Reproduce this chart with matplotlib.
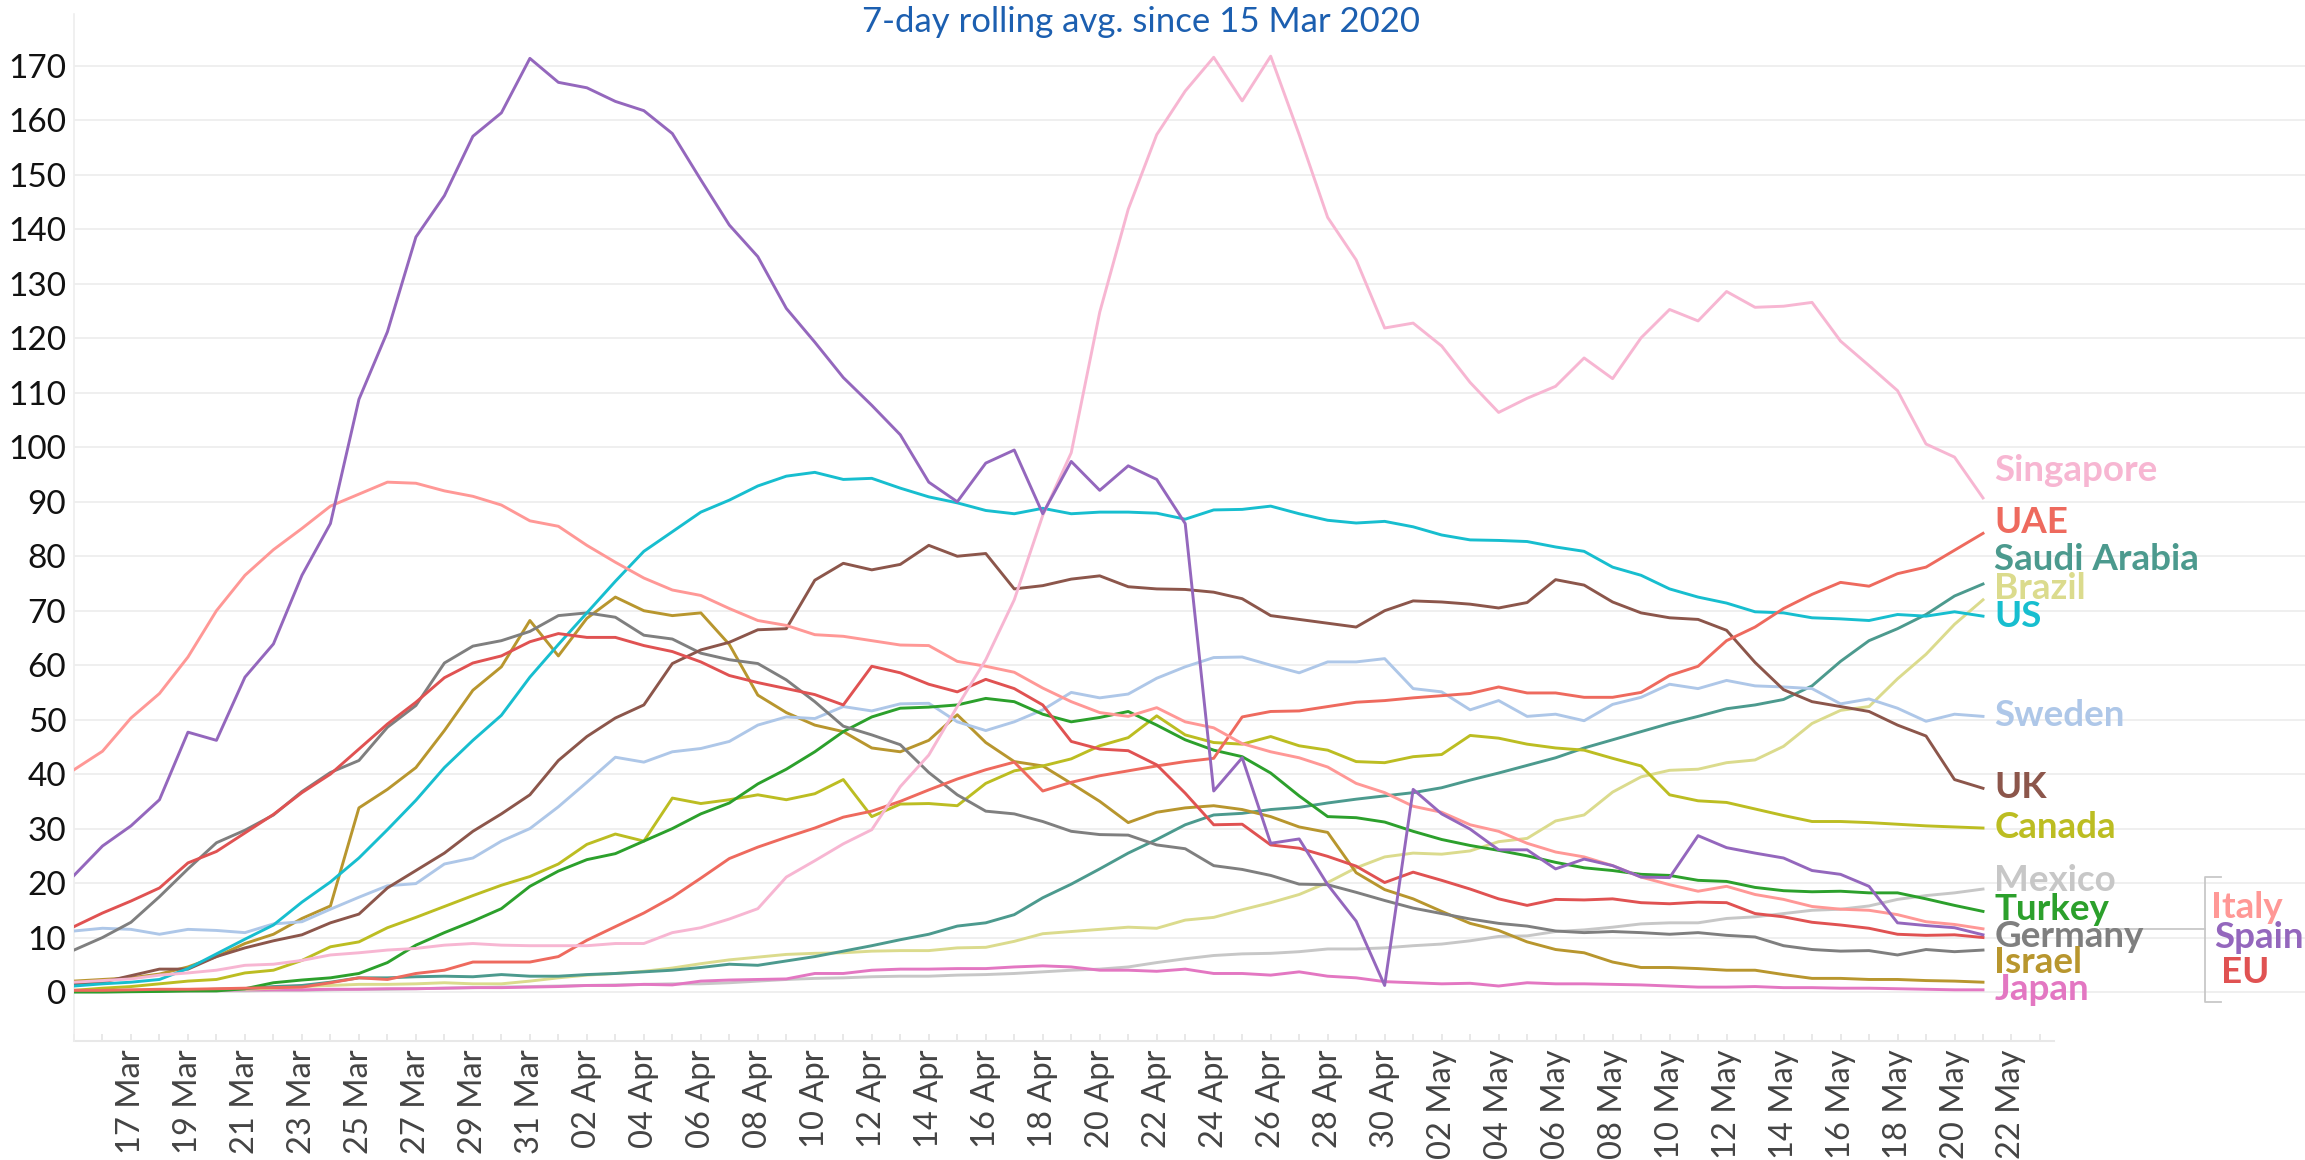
import matplotlib
matplotlib.use('Agg')
import matplotlib.pyplot as plt
import matplotlib.dates as mdates
import pandas as pd
from matplotlib import font_manager as fm

avail = {f.name for f in fm.fontManager.ttflist}
NARROW = 'Liberation Sans Narrow' if 'Liberation Sans Narrow' in avail else 'Lato'

dates = pd.date_range('2020-03-15', '2020-05-21', freq='D')

spain = [21.4, 26.8, 30.5, 35.3, 47.7, 46.2, 57.8, 63.9, 76.5, 86.0, 108.8, 121.2, 138.6, 146.2, 157.1, 161.4,
         171.4, 167.0, 166.0, 163.5, 161.8, 157.6, 149.1, 140.8, 135.0, 125.5, 119.3, 112.8, 107.7, 102.3, 93.6, 90.0,
         97.1, 99.5, 87.8, 97.4, 92.1, 96.6, 94.1, 86.0, 36.9, 43.0, 27.3, 28.1, 19.7, 13.0, 1.2, 37.2,
         32.7, 29.9, 26.1, 26.1, 22.6, 24.4, 23.2, 21.1, 21.0, 28.7, 26.5, 25.5, 24.6, 22.3, 21.6, 19.4,
         12.7, 12.2, 11.8, 10.5]
italy = [40.8, 44.2, 50.3, 54.8, 61.5, 70.0, 76.5, 81.2, 85.1, 89.2, 91.4, 93.6, 93.4, 92.0, 91.0, 89.4,
         86.5, 85.5, 82.0, 78.9, 76.0, 73.8, 72.8, 70.4, 68.2, 67.3, 65.6, 65.3, 64.5, 63.7, 63.6, 60.7,
         59.8, 58.7, 55.8, 53.3, 51.3, 50.6, 52.2, 49.6, 48.5, 45.6, 44.1, 43.0, 41.3, 38.3, 36.6, 34.1,
         33.0, 30.7, 29.5, 27.3, 25.7, 24.8, 23.2, 21.1, 19.7, 18.5, 19.4, 17.9, 17.0, 15.7, 15.2, 15.0,
         14.2, 12.9, 12.4, 11.6]
eu = [12.0, 14.5, 16.7, 19.1, 23.7, 25.8, 29.2, 32.6, 36.6, 40.0, 44.6, 49.2, 53.2, 57.7, 60.4, 61.7,
      64.3, 65.8, 65.1, 65.1, 63.6, 62.5, 60.6, 58.1, 56.8, 55.7, 54.6, 52.7, 59.8, 58.6, 56.5, 55.1,
      57.4, 55.7, 52.7, 46.0, 44.6, 44.3, 41.7, 36.5, 30.7, 30.8, 27.0, 26.4, 24.9, 23.1, 20.1, 22.0,
      20.5, 18.9, 17.1, 15.9, 17.0, 16.9, 17.1, 16.4, 16.2, 16.5, 16.4, 14.4, 13.8, 12.8, 12.3, 11.7,
      10.6, 10.4, 10.5, 10.0]
uae = [0.3, 0.3, 0.4, 0.5, 0.5, 0.6, 0.7, 0.8, 0.9, 1.7, 2.6, 2.3, 3.4, 4.0, 5.5, 5.5,
       5.5, 6.5, 9.5, 12.0, 14.5, 17.4, 20.9, 24.5, 26.6, 28.4, 30.1, 32.1, 33.2, 35.0, 37.1, 39.1,
       40.8, 42.2, 36.9, 38.5, 39.7, 40.6, 41.5, 42.3, 42.9, 50.5, 51.5, 51.6, 52.4, 53.2, 53.5, 54.0,
       54.4, 54.8, 56.0, 54.9, 54.9, 54.1, 54.1, 55.0, 58.1, 59.8, 64.5, 67.0, 70.4, 73.0, 75.2, 74.5,
       76.8, 78.0, 81.1, 84.2]
us = [1.1, 1.5, 1.8, 2.3, 4.3, 7.0, 9.7, 12.3, 16.5, 20.2, 24.6, 29.8, 35.2, 41.2, 46.2, 50.8,
      57.8, 63.8, 69.6, 75.4, 80.9, 84.5, 88.1, 90.3, 92.9, 94.7, 95.4, 94.1, 94.3, 92.5, 90.9, 89.8,
      88.4, 87.8, 88.8, 87.8, 88.1, 88.1, 87.9, 86.8, 88.5, 88.6, 89.2, 87.8, 86.6, 86.1, 86.4, 85.4,
      83.9, 83.0, 82.9, 82.7, 81.7, 80.9, 78.0, 76.5, 74.0, 72.5, 71.4, 69.8, 69.6, 68.7, 68.5, 68.2,
      69.3, 69.0, 69.8, 69.0]
uk = [1.4, 1.8, 3.0, 4.2, 4.2, 6.5, 8.1, 9.4, 10.5, 12.7, 14.3, 19.1, 22.3, 25.5, 29.5, 32.7,
      36.2, 42.5, 46.9, 50.3, 52.7, 60.3, 62.8, 64.2, 66.5, 66.7, 75.6, 78.7, 77.5, 78.5, 82.0, 80.0,
      80.5, 74.0, 74.6, 75.8, 76.4, 74.4, 74.0, 73.9, 73.4, 72.2, 69.1, 68.4, 67.7, 67.0, 70.0, 71.8,
      71.6, 71.2, 70.5, 71.5, 75.7, 74.7, 71.6, 69.6, 68.7, 68.4, 66.4, 60.5, 55.5, 53.3, 52.4, 51.5,
      49.0, 47.0, 39.0, 37.4]
sweden = [11.2, 11.7, 11.5, 10.6, 11.5, 11.3, 10.9, 12.5, 12.9, 15.2, 17.4, 19.5, 19.9, 23.5, 24.6, 27.7,
          30.0, 34.0, 38.5, 43.1, 42.2, 44.1, 44.7, 46.0, 49.0, 50.5, 50.2, 52.4, 51.6, 52.9, 53.0, 49.6,
          48.0, 49.6, 51.8, 55.0, 54.0, 54.7, 57.6, 59.7, 61.4, 61.5, 60.0, 58.6, 60.6, 60.6, 61.2, 55.7,
          55.1, 51.8, 53.5, 50.6, 51.0, 49.8, 52.8, 54.1, 56.5, 55.7, 57.2, 56.2, 56.0, 55.7, 52.9, 53.8,
          52.1, 49.7, 51.0, 50.6]
canada = [0.3, 0.7, 1.0, 1.5, 2.0, 2.3, 3.5, 4.0, 5.8, 8.3, 9.2, 11.8, 13.7, 15.7, 17.7, 19.6,
          21.2, 23.5, 27.1, 29.0, 27.7, 35.6, 34.6, 35.3, 36.2, 35.3, 36.4, 39.0, 32.2, 34.5, 34.6, 34.2,
          38.3, 40.6, 41.5, 42.8, 45.2, 46.7, 50.7, 47.2, 45.8, 45.5, 46.9, 45.2, 44.4, 42.3, 42.1, 43.2,
          43.6, 47.1, 46.6, 45.5, 44.8, 44.4, 42.9, 41.5, 36.2, 35.1, 34.8, 33.6, 32.4, 31.3, 31.3, 31.1,
          30.8, 30.5, 30.3, 30.1]
israel = [2.0, 2.3, 2.6, 3.3, 4.6, 6.5, 8.9, 10.6, 13.5, 15.8, 33.8, 37.2, 41.2, 48.0, 55.4, 59.7,
          68.2, 61.7, 68.6, 72.5, 70.0, 69.1, 69.6, 63.8, 54.5, 51.3, 49.0, 47.8, 44.8, 44.1, 46.2, 50.9,
          45.8, 42.3, 41.5, 38.3, 35.0, 31.1, 33.0, 33.8, 34.2, 33.5, 32.2, 30.3, 29.3, 21.9, 18.8, 17.1,
          14.8, 12.6, 11.3, 9.2, 7.8, 7.2, 5.5, 4.5, 4.5, 4.3, 4.0, 4.0, 3.2, 2.5, 2.5, 2.3,
          2.3, 2.1, 2.0, 1.8]
germany = [7.7, 10.0, 12.8, 17.5, 22.6, 27.4, 29.7, 32.5, 36.8, 40.3, 42.5, 48.6, 52.6, 60.4, 63.5, 64.5,
           66.2, 69.1, 69.6, 68.8, 65.5, 64.8, 62.2, 61.0, 60.3, 57.3, 53.3, 48.8, 47.2, 45.4, 40.3, 36.2,
           33.2, 32.7, 31.3, 29.5, 28.9, 28.8, 27.0, 26.3, 23.2, 22.5, 21.4, 19.8, 19.7, 18.3, 16.8, 15.4,
           14.4, 13.4, 12.6, 12.1, 11.2, 10.9, 11.1, 10.9, 10.6, 10.9, 10.4, 10.1, 8.5, 7.8, 7.5, 7.6,
           6.8, 7.8, 7.4, 7.7]
turkey = [0.0, 0.0, 0.05, 0.1, 0.2, 0.2, 0.6, 1.7, 2.2, 2.6, 3.4, 5.4, 8.6, 10.9, 13.0, 15.3,
          19.4, 22.2, 24.3, 25.4, 27.7, 30.0, 32.7, 34.7, 38.2, 40.9, 44.1, 47.8, 50.5, 52.1, 52.3, 52.7,
          53.9, 53.3, 51.0, 49.6, 50.4, 51.5, 49.0, 46.3, 44.4, 43.2, 40.2, 36.0, 32.2, 32.0, 31.2, 29.5,
          28.0, 26.9, 26.0, 25.0, 23.8, 22.8, 22.3, 21.6, 21.4, 20.5, 20.3, 19.2, 18.6, 18.4, 18.5, 18.2,
          18.2, 17.1, 15.9, 14.8]
saudi = [0.2, 0.2, 0.2, 0.3, 0.4, 0.5, 0.6, 1.0, 1.2, 1.8, 2.6, 2.6, 2.8, 2.9, 2.8, 3.2,
         2.9, 2.9, 3.2, 3.4, 3.7, 4.0, 4.5, 5.1, 4.9, 5.7, 6.5, 7.5, 8.5, 9.6, 10.6, 12.1,
         12.7, 14.2, 17.3, 19.8, 22.6, 25.5, 28.0, 30.7, 32.5, 32.8, 33.5, 33.9, 34.7, 35.4, 36.0, 36.6,
         37.5, 38.9, 40.2, 41.6, 43.0, 44.8, 46.3, 47.8, 49.3, 50.6, 52.0, 52.7, 53.7, 56.2, 60.7, 64.5,
         66.7, 69.3, 72.7, 74.9]
brazil = [0.1, 0.1, 0.2, 0.3, 0.3, 0.4, 0.5, 0.7, 1.0, 1.2, 1.4, 1.4, 1.5, 1.7, 1.5, 1.5,
          2.0, 2.6, 3.1, 3.4, 3.8, 4.4, 5.2, 5.9, 6.4, 6.9, 7.1, 7.2, 7.5, 7.6, 7.6, 8.1,
          8.2, 9.3, 10.7, 11.1, 11.5, 11.9, 11.7, 13.2, 13.7, 15.1, 16.4, 17.9, 20.1, 22.8, 24.8, 25.5,
          25.3, 25.9, 27.6, 28.2, 31.4, 32.5, 36.7, 39.5, 40.7, 40.9, 42.1, 42.6, 45.1, 49.3, 51.7, 52.4,
          57.5, 62.0, 67.5, 72.0]
mexico = [0.0, 0.0, 0.1, 0.1, 0.1, 0.2, 0.2, 0.3, 0.3, 0.4, 0.5, 0.5, 0.6, 0.7, 0.8, 0.9,
          1.0, 1.1, 1.2, 1.3, 1.4, 1.5, 1.5, 1.7, 2.0, 2.3, 2.5, 2.6, 2.8, 2.9, 2.9, 3.1,
          3.2, 3.4, 3.7, 4.0, 4.2, 4.6, 5.4, 6.1, 6.7, 7.0, 7.1, 7.4, 7.9, 7.9, 8.1, 8.5,
          8.8, 9.4, 10.2, 10.3, 11.1, 11.4, 11.9, 12.5, 12.7, 12.7, 13.5, 13.8, 14.4, 15.0, 15.2, 15.8,
          17.0, 17.7, 18.2, 18.9]
japan = [0.3, 0.3, 0.3, 0.3, 0.3, 0.3, 0.4, 0.4, 0.4, 0.5, 0.5, 0.6, 0.6, 0.7, 0.8, 0.8,
         0.9, 1.0, 1.2, 1.2, 1.4, 1.3, 2.0, 2.2, 2.3, 2.4, 3.4, 3.4, 4.0, 4.2, 4.2, 4.3,
         4.3, 4.6, 4.8, 4.6, 4.0, 4.0, 3.8, 4.2, 3.4, 3.4, 3.1, 3.7, 2.9, 2.6, 1.9, 1.7,
         1.5, 1.6, 1.1, 1.7, 1.5, 1.5, 1.4, 1.3, 1.1, 0.9, 0.9, 1.0, 0.8, 0.8, 0.7, 0.7,
         0.6, 0.5, 0.4, 0.4]
singapore = [1.8, 2.1, 2.4, 3.1, 3.5, 4.0, 4.9, 5.1, 5.8, 6.8, 7.2, 7.7, 8.0, 8.6, 8.9, 8.6,
             8.5, 8.5, 8.5, 8.9, 8.9, 10.9, 11.8, 13.4, 15.3, 21.1, 24.1, 27.2, 29.8, 37.7, 43.5, 52.4,
             61.0, 72.0, 87.5, 99.0, 124.8, 143.7, 157.4, 165.4, 171.6, 163.6, 171.8, 157.4, 142.2, 134.4, 121.9, 122.8,
             118.6, 111.9, 106.4, 109.0, 111.2, 116.4, 112.6, 120.1, 125.3, 123.2, 128.6, 125.7, 125.9, 126.6, 119.5, 115.0,
             110.4, 100.6, 98.2, 90.7]

names = ['Mexico', 'Japan', 'Brazil', 'Saudi Arabia', 'Israel', 'Sweden', 'Canada', 'Turkey',
         'Germany', 'UK', 'US', 'UAE', 'EU', 'Italy', 'Singapore', 'Spain']
values = [mexico, japan, brazil, saudi, israel, sweden, canada, turkey,
          germany, uk, us, uae, eu, italy, singapore, spain]
colors = {'Singapore': '#f7b6d2', 'UAE': '#ee6a5e', 'Saudi Arabia': '#4c9a8e', 'Brazil': '#dbdb8d',
          'US': '#17becf', 'Sweden': '#aec7e8', 'UK': '#8c564b', 'Canada': '#bcbd22',
          'Mexico': '#c7c7c7', 'Turkey': '#2ca02c', 'Germany': '#7f7f7f', 'Israel': '#b8962e',
          'Japan': '#e377c2', 'Italy': '#ff9896', 'Spain': '#9467bd', 'EU': '#e05252'}

# end labels: (name, baseline value)
end_labels = [('Singapore', 93.9), ('UAE', 84.2), ('Saudi Arabia', 77.5), ('Brazil', 72.1),
              ('US', 67.1), ('Sweden', 48.8), ('UK', 35.6), ('Canada', 28.2), ('Mexico', 18.6),
              ('Turkey', 13.3), ('Germany', 8.3), ('Israel', 3.5), ('Japan', -1.5)]
group_labels = [('Italy', 13.5, 75.0), ('Spain', 8.0, 75.1), ('EU', 1.7, 75.35)]

W, H = 2305, 1160
fig = plt.figure(figsize=(W / 100, H / 100), dpi=100)
ax_left, ax_bottom_px, ax_top_px = 74, 1041, 14
ax = fig.add_axes([ax_left / W, 1 - ax_bottom_px / H, 1 - ax_left / W, (ax_bottom_px - ax_top_px) / H])

d0 = mdates.date2num(dates[0])
px_day = (1983 - 74) / 67.0
ax.set_xlim(d0, d0 + (W - ax_left) / px_day)
px_unit = (992 - 66) / 170.0
ax.set_ylim(-(ax_bottom_px - 992) / px_unit, 170 + (66 - ax_top_px) / px_unit)

for name, vals in zip(names, values):
    ax.plot(dates, vals, color=colors[name], lw=2.1, zorder=3)

ax.set_yticks(range(0, 171, 10))
ax.yaxis.grid(True, color='#efefef', lw=1.4, zorder=0)
ax.set_axisbelow(True)
for s in ['top', 'right', 'bottom']:
    ax.spines[s].set_visible(False)
ax.spines['left'].set_color('#eeeeee')
ax.spines['left'].set_linewidth(1.2)
ax.tick_params(axis='y', length=0, pad=5.5, labelsize=24, labelcolor='#111111')
for lab in ax.get_yticklabels():
    lab.set_family(NARROW)

# bottom axis line (partial)
ax.plot([d0, d0 + 69.5], [ax.get_ylim()[0]] * 2, color='#e8e8e8', lw=1.5, clip_on=False, zorder=1)

major = pd.date_range('2020-03-17', '2020-05-22', freq='2D')
ax.set_xticks(mdates.date2num(major))
ax.set_xticklabels([d.strftime('%d %b') for d in major], rotation=90, family='Lato',
                   fontsize=23.5, color='#444444', va='top', ha='center')
ax.set_xticks([d0 + i for i in range(0, 70)], minor=True)
ax.tick_params(axis='x', which='both', direction='in', length=5, color='#e4e4e4', width=1.2, pad=6)

for name, yb in end_labels:
    ax.text(d0 + 67.4, yb, name, color=colors[name], fontsize=26.5, fontweight='bold',
            family='Lato', ha='left', va='baseline', zorder=5)
for name, yb, xd in group_labels:
    ax.text(d0 + xd, yb, name, color=colors[name], fontsize=26.5, fontweight='bold',
            family='Lato', ha='left', va='baseline', zorder=5)

# bracket for Italy / Spain / EU
bx = d0 + 74.8
ax.plot([bx + 0.55, bx, bx, bx + 0.55], [21.1, 21.1, -1.8, -1.8], color='#c8c8c8', lw=1.3,
        clip_on=False, zorder=2)
ax.plot([d0 + 71.1, bx], [11.6, 11.6], color='#c8c8c8', lw=1.3, zorder=2)

fig.text(1141 / W, 1 - 22 / H, '7-day rolling avg. since 15 Mar 2020', ha='center', va='center',
         color='#1c5fb0', fontsize=25, family=NARROW)

fig.savefig('out.png', dpi=100)
